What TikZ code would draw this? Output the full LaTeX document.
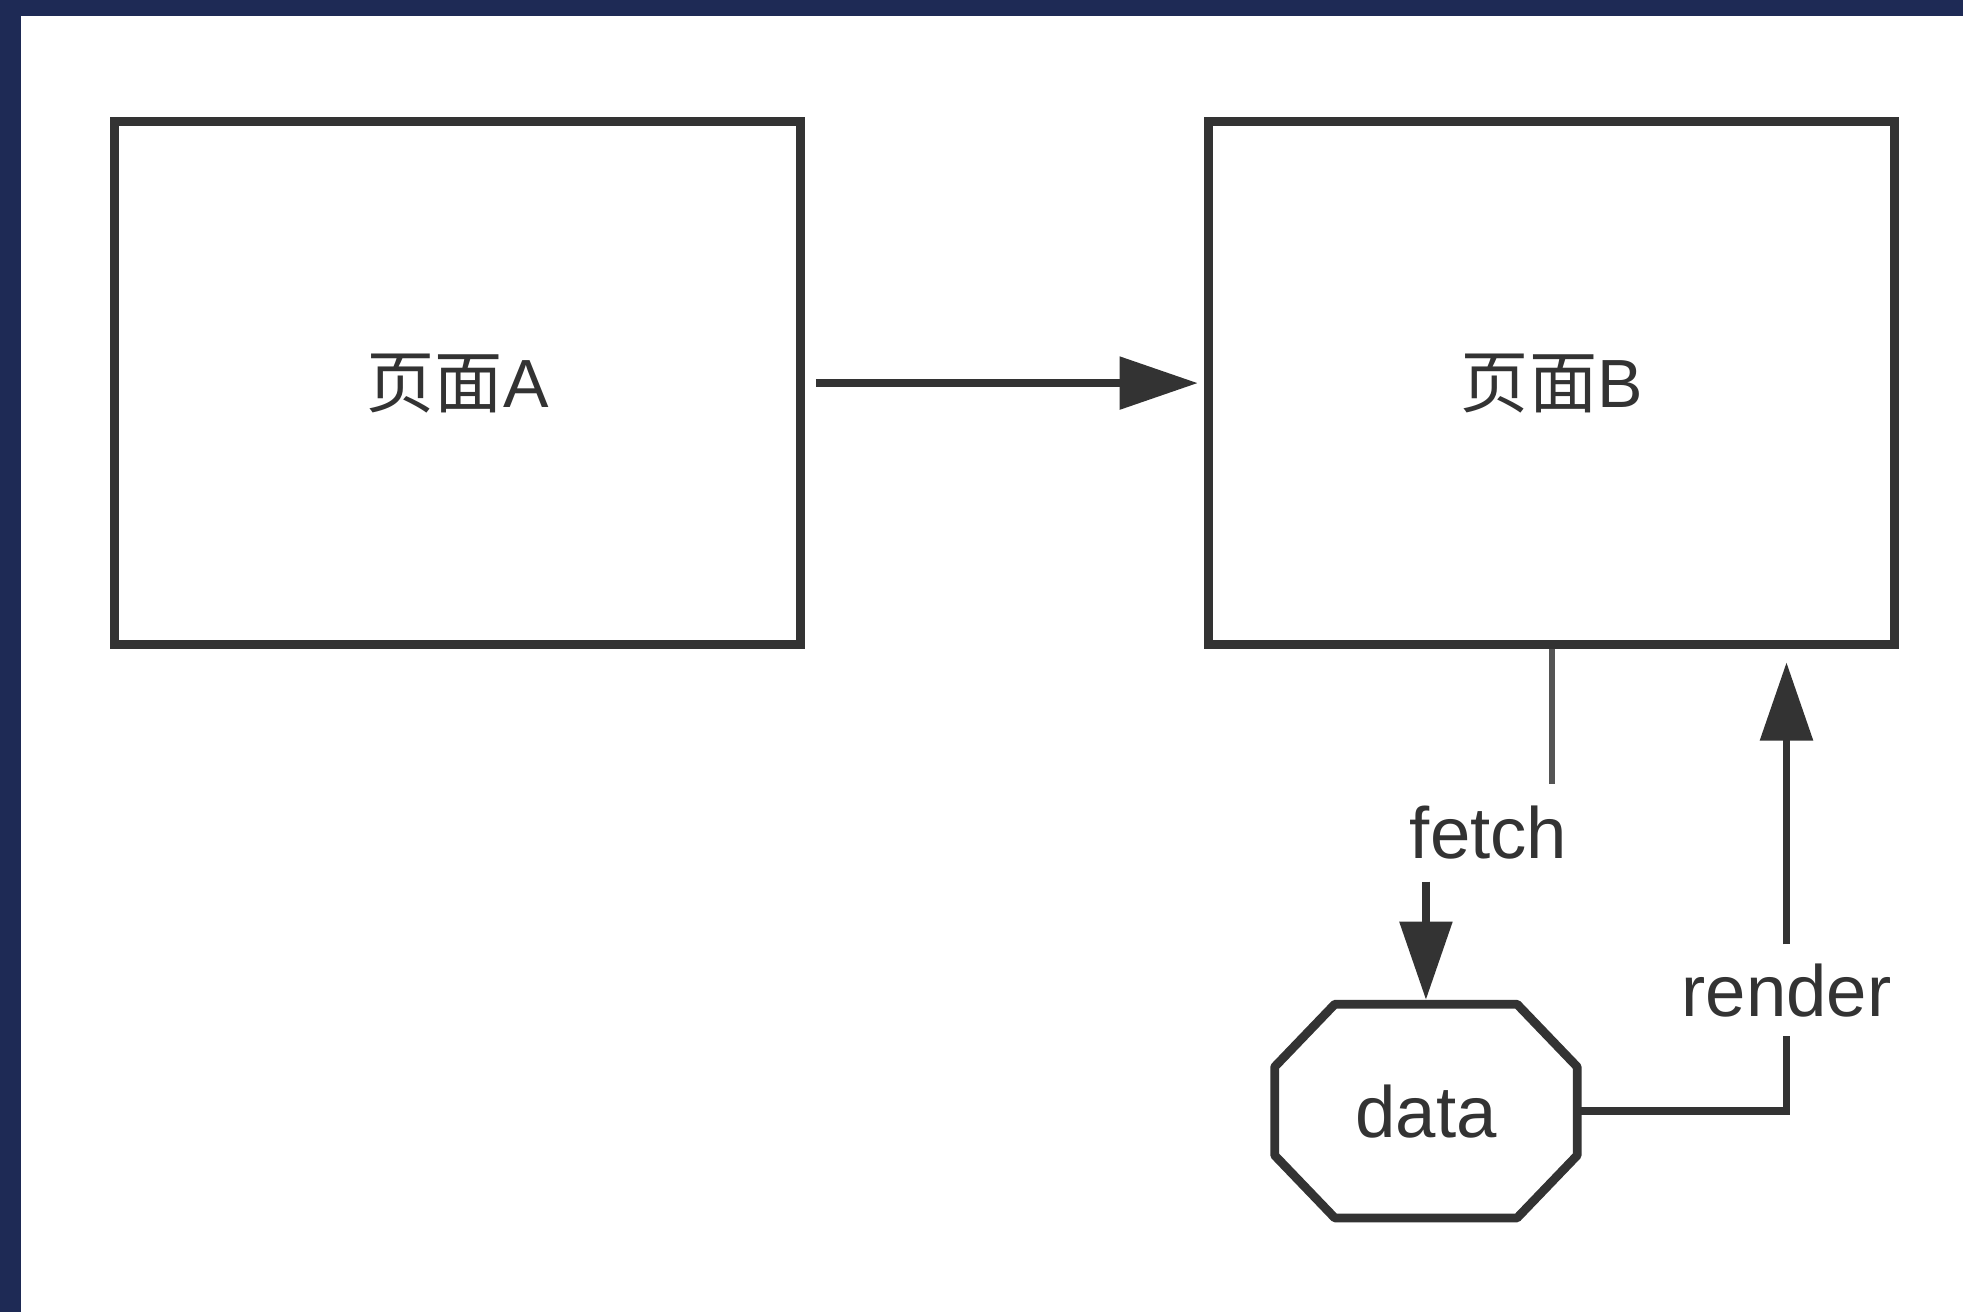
\documentclass[tikz,border=0pt]{standalone}
\usepackage{fontspec}
\setmainfont{Liberation Sans}
\newfontfamily\cjk{Noto Sans CJK SC}
\usetikzlibrary{arrows.meta,positioning}

\begin{document}
\begin{tikzpicture}[x=0.02cm, y=-0.02cm]
\definecolor{frameColour}{RGB}{30, 42, 85}
			\definecolor{lineColour}{RGB}{51, 51, 51}
			\definecolor{thinColour}{RGB}{85, 85, 85}
			\tikzstyle{page}=[rectangle, draw, color=lineColour, line width=4pt, minimum width=10.96cm, minimum height=8.36cm, font=\fontsize{31}{36}\selectfont]
			\tikzstyle{store}=[rectangle, color=lineColour, minimum width=4.82cm, minimum height=3.4cm, inner sep=0pt, font=\fontsize{33}{38}\selectfont]
			\tikzstyle{tag}=[color=lineColour, font=\fontsize{33}{38}\selectfont]
			\tikzstyle{flow}=[color=lineColour, line width=3.6pt, -{Triangle[length=1.25cm, width=0.82cm]}]

			% frame
			\fill[frameColour] (0,0) rectangle (1568,1048);
			\fill[white] (16.8,12.8) rectangle (1568,1048);

			\node [page] (pageA) at (365.5,306) {{\cjk 页面}A};
			\node [page] (pageB) at (1239.5,306) {{\cjk 页面}B};
			\node [store] (data) at (1139,887.5) {data};

			% octagon round the data node
			\draw[color=lineColour, line width=4pt, line join=round]
			([xshift=0.96cm]data.north west) -- ([xshift=-0.96cm]data.north east)
			-- ([yshift=-1cm]data.north east) -- ([yshift=1cm]data.south east)
			-- ([xshift=-0.96cm]data.south east) -- ([xshift=0.96cm]data.south west)
			-- ([yshift=1cm]data.south west) -- ([yshift=-1cm]data.north west) -- cycle;

			\node [tag, inner sep=0.35cm] (fetch) at (1189,665) {fetch};
			\node [tag, inner sep=0.3cm] (render) at (1427,791) {render};

			\draw[flow, shorten <=5pt, shorten >=3pt] (pageA) -- (pageB);
			\draw[color=thinColour, line width=2.8pt] (pageB.south) -- (pageB.south |- fetch.north);
			\draw[flow] (data.north |- fetch.south) -- ([yshift=2pt]data.north);
			\draw[color=lineColour, line width=3.6pt] (data.east) -| (render.south);
			\draw[flow, shorten >=6pt] (render.north) -- (render.north |- pageB.south);
		\end{tikzpicture}
\end{document}
